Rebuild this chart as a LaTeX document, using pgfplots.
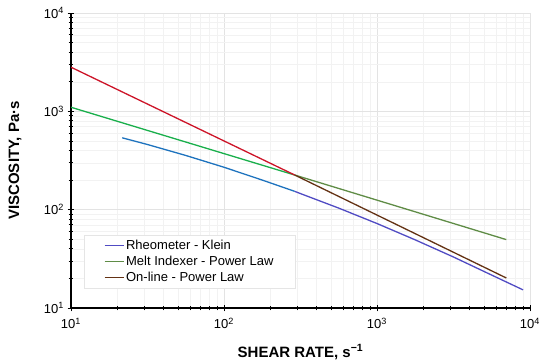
\documentclass[border=0pt]{standalone}
\usepackage{fontspec}
\setmainfont{Liberation Sans}
\usepackage{pgfplots}
\pgfplotsset{compat=1.18}
\definecolor{bluel}{RGB}{30,115,190}
\definecolor{bluer}{RGB}{80,75,195}
\definecolor{greenl}{RGB}{25,175,75}
\definecolor{greenr}{RGB}{95,140,70}
\definecolor{redl}{RGB}{205,20,40}
\definecolor{redr}{RGB}{100,50,20}
\begin{document}
\begin{tikzpicture}
\begin{loglogaxis}[
  scale only axis, width=459pt, height=295pt,
  xmin=10, xmax=10000, ymin=10, ymax=10000,
  axis lines=left, axis line style={-, line width=1.1pt, black},
  xtick={10,100,1000,10000},
  xticklabels={10\textsuperscript{1},10\textsuperscript{2},10\textsuperscript{3},10\textsuperscript{4}},
  ytick={10,100,1000,10000},
  yticklabels={10\textsuperscript{1},10\textsuperscript{2},10\textsuperscript{3},10\textsuperscript{4}},
  tick label style={font=\fontsize{13}{13}\selectfont, black},
  xticklabel style={yshift=-3pt},
  grid=both,
  major grid style={gray!22, line width=0.5pt},
  minor grid style={gray!10, line width=0.4pt},
  tick align=center,
  major tick length=7pt, minor tick length=5pt,
  every tick/.style={black, line width=0.8pt},
  xlabel={SHEAR RATE, s\textsuperscript{−1}},
  ylabel={VISCOSITY, Pa·s},
  xlabel style={font=\fontsize{15}{15}\selectfont\bfseries, at={(axis description cs:0.5,-0.149)}, anchor=center},
  ylabel style={font=\fontsize{15}{15}\selectfont\bfseries, at={(axis description cs:-0.122,0.5)}, anchor=center},
  legend style={at={(axis description cs:0.028,0.247)}, anchor=north west,
    draw=gray!20, line width=0.5pt, fill=white,
    font=\fontsize{13}{15}\selectfont, inner xsep=20pt, inner ysep=3pt,
    row sep=1pt},
  legend cell align=left,
  legend image code/.code={\draw[#1, line width=1pt] (0pt,0pt) -- (19pt,0pt);},
  every axis plot/.append style={line width=1.3pt},
]
% left segments
\addplot[bluel, forget plot] coordinates {(21.6,538) (31.6,460) (56.2,356) (100,270) (177.8,200) (290,153.5)};
\addplot[greenl, forget plot] coordinates {(10,1100) (290,225)};
\addplot[redl, forget plot] coordinates {(10,2810) (290,225)};
% right segments
\addplot[bluer] coordinates {(290,153.5) (316.2,145.7) (562.3,103.7) (1000,72.3) (1778,49.3) (3162,33.0) (5623,21.6) (9000,15.3)};
\addlegendentry{Rheometer - Klein}
\addplot[greenr] coordinates {(290,225) (7000,49.6)};
\addlegendentry{Melt Indexer - Power Law}
\addplot[redr] coordinates {(290,225) (7000,20.2)};
\addlegendentry{On-line - Power Law}
\end{loglogaxis}
\pgfresetboundingbox
\path[use as bounding box] (-71pt,-54pt) rectangle (479pt,308pt);
\end{tikzpicture}
\end{document}
